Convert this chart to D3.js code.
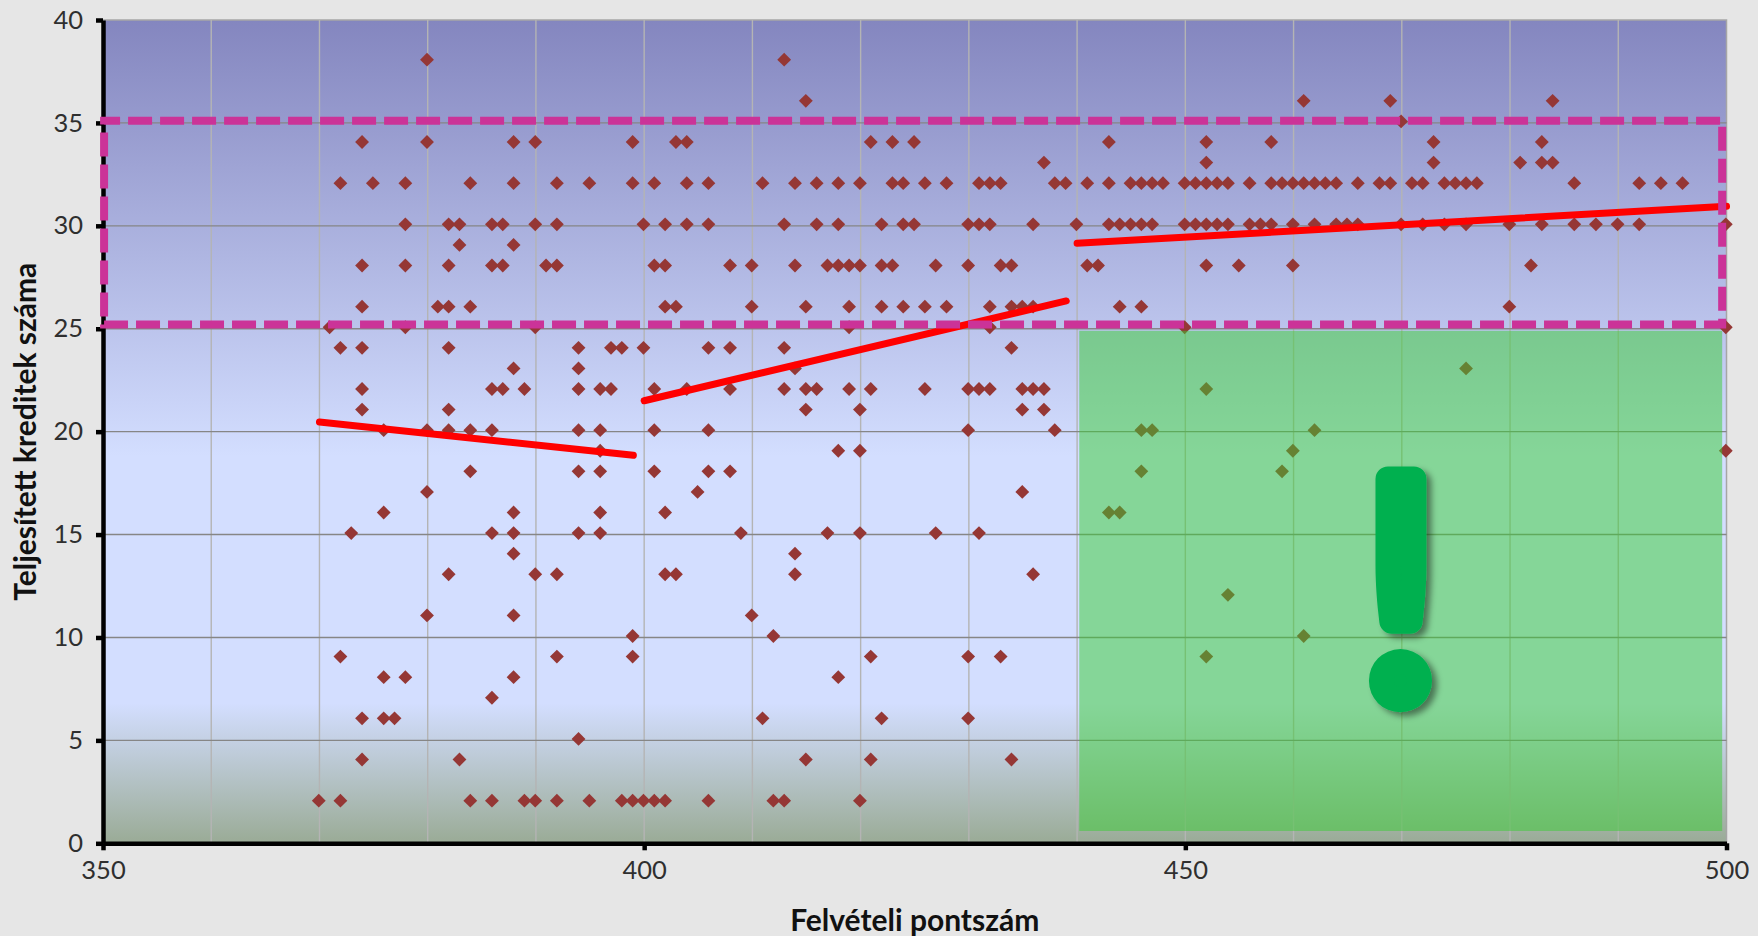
<!DOCTYPE html>
<html>
<head>
<meta charset="utf-8">
<title>Felvételi pontszám</title>
<script src="https://cdn.jsdelivr.net/npm/d3@7"></script>
<style>
    html, body { margin: 0; background: #e6e6e6; overflow: hidden; }
    text { font-family: Lato, "Noto Sans", sans-serif; }
</style>
</head>
<body>
<svg id="content" width="1758" height="936"></svg>
<script>
// tick labels
const xTicks = [350, 400, 450, 500];
const yTicks = [0, 5, 10, 15, 20, 25, 30, 35, 40];
const xGrid = [360, 370, 380, 390, 400, 410, 420, 430, 440, 450, 460, 470, 480, 490];

// admission scores of the students, one list per completed credit count
const credits38 = [380, 413];
const credits36 = [415, 461, 469, 484];
const credits35 = [470];
const credits34 = [374, 380, 388, 390, 399, 403, 404, 421, 423, 425, 443, 452, 458, 473, 483];
const credits33 = [437, 452, 473, 481, 483, 484];
const credits32 = [372, 375, 378, 384, 388, 392, 395, 399, 401, 404, 406, 411, 414, 416, 418, 420, 423, 424, 426, 428, 431, 432, 433, 438, 439, 441, 443, 445, 446, 447, 448, 450, 451, 452, 453, 454, 456, 458, 459, 460, 461, 462, 463, 464, 466, 468, 469, 471, 472, 474, 475, 476, 477, 486, 492, 494, 496];
const credits30 = [378, 382, 383, 386, 387, 390, 392, 400, 402, 404, 406, 413, 416, 418, 422, 424, 425, 430, 431, 432, 436, 440, 443, 444, 445, 446, 447, 450, 451, 452, 453, 454, 456, 457, 458, 460, 462, 464, 465, 466, 470, 472, 474, 476, 480, 483, 486, 488, 490, 492, 500];
const credits29 = [383, 388];
const credits28 = [374, 378, 382, 386, 387, 391, 392, 401, 402, 408, 410, 414, 417, 418, 419, 420, 422, 423, 427, 430, 433, 434, 441, 442, 452, 455, 460, 482];
const credits26 = [374, 381, 382, 384, 402, 403, 410, 415, 419, 422, 424, 426, 428, 432, 434, 435, 436, 444, 446, 480];
const credits25 = [371, 378, 390, 419, 432, 450, 500];
const credits24 = [372, 374, 382, 394, 397, 398, 400, 406, 408, 413, 434];
const credits23 = [388, 394, 414, 476];
const credits22 = [374, 386, 387, 389, 394, 396, 397, 401, 404, 408, 413, 415, 416, 419, 421, 426, 430, 431, 432, 435, 436, 437, 452];
const credits21 = [374, 382, 415, 420, 435, 437];
const credits20 = [376, 380, 382, 384, 386, 394, 396, 401, 406, 430, 438, 446, 447, 462];
const credits19 = [396, 418, 420, 460, 500];
const credits18 = [384, 394, 396, 401, 406, 408, 446, 459];
const credits17 = [380, 405, 435];
const credits16 = [376, 388, 396, 402, 443, 444];
const credits15 = [373, 386, 388, 394, 396, 409, 417, 420, 427, 431];
const credits14 = [388, 414];
const credits13 = [382, 390, 392, 402, 403, 414, 436];
const credits12 = [454];
const credits11 = [380, 388, 410];
const credits10 = [399, 412, 461];
const credits9 = [372, 392, 399, 421, 430, 433, 452];
const credits8 = [376, 378, 388, 418];
const credits7 = [386];
const credits6 = [374, 376, 377, 411, 422, 430];
const credits5 = [394];
const credits4 = [374, 383, 415, 421, 434];
const credits2 = [370, 372, 384, 386, 389, 390, 392, 395, 398, 399, 400, 401, 402, 406, 412, 413, 420];

// trend of each score band, [score, credits]
const trendLow = [[370, 20.47], [399, 18.85]];
const trendMid = [[400, 21.5], [439, 26.35]];
const trendHigh = [[440, 29.15], [500, 30.95]];

// highlighted zones, in axis units
const dashedZone = { x0: 350.1, x1: 499.6, y0: 25.2, y1: 35.1 };
const greenZone = { x0: 440.2, x1: 499.6, y0: 24.9, y1: 0.6 };

// html loaded
document.addEventListener('DOMContentLoaded', function () {

    const svg = d3.select('#content');

    const xScale = d3.scaleLinear().domain([350, 500]).range([103, 1726.5]);
    const yScale = d3.scaleLinear().domain([0, 40]).range([843.3, 20]);

    const points = [
        [38, credits38], [36, credits36], [35, credits35], [34, credits34], [33, credits33],
        [32, credits32], [30, credits30], [29, credits29], [28, credits28], [26, credits26],
        [25, credits25], [24, credits24], [23, credits23], [22, credits22], [21, credits21],
        [20, credits20], [19, credits19], [18, credits18], [17, credits17], [16, credits16],
        [15, credits15], [14, credits14], [13, credits13], [12, credits12], [11, credits11],
        [10, credits10], [9, credits9], [8, credits8], [7, credits7], [6, credits6],
        [5, credits5], [4, credits4], [2, credits2]
    ].flatMap(([credit, scores]) => scores.map(score => ({ score, credit })));

    // gradients
    const defs = svg.append('defs');
    const plotFill = defs.append('linearGradient')
        .attr('id', 'plotFill').attr('x1', 0).attr('y1', 0).attr('x2', 0).attr('y2', 1);
    plotFill.append('stop').attr('offset', '0%').attr('stop-color', '#8486bf');
    plotFill.append('stop').attr('offset', '53%').attr('stop-color', '#d3deff');
    plotFill.append('stop').attr('offset', '83%').attr('stop-color', '#d3deff');
    plotFill.append('stop').attr('offset', '100%').attr('stop-color', '#9aab96');

    const shadow = defs.append('filter').attr('id', 'shadow')
        .attr('x', '-30%').attr('y', '-10%').attr('width', '160%').attr('height', '120%');
    shadow.append('feDropShadow')
        .attr('dx', 5).attr('dy', 4).attr('stdDeviation', 3)
        .attr('flood-color', '#000').attr('flood-opacity', 0.45);

    // plot background
    svg.append('rect')
        .attr('x', xScale(350))
        .attr('y', yScale(40))
        .attr('width', xScale(500) - xScale(350))
        .attr('height', yScale(0) - yScale(40))
        .attr('fill', 'url(#plotFill)')
        .attr('stroke', '#a6a6a6')
        .attr('stroke-width', 1.5);

    // grid lines
    svg.append('g').selectAll('line').data(xGrid).enter().append('line')
        .attr('x1', d => xScale(d)).attr('x2', d => xScale(d))
        .attr('y1', yScale(40)).attr('y2', yScale(0))
        .attr('stroke', '#b4b4b4').attr('stroke-width', 1.4);

    svg.append('g').selectAll('line').data(yTicks.filter(d => d > 0 && d < 40)).enter().append('line')
        .attr('x1', xScale(350)).attr('x2', xScale(500))
        .attr('y1', d => yScale(d)).attr('y2', d => yScale(d))
        .attr('stroke', '#868686').attr('stroke-width', 1.4);

    // students
    const diamond = d3.symbol().type(d3.symbolDiamond2).size(122);
    svg.append('g').selectAll('path').data(points).enter().append('path')
        .attr('d', diamond)
        .attr('transform', d => `translate(${xScale(d.score) - 0.7}, ${yScale(d.credit) - 1.5})`)
        .attr('fill', '#953735');

    // green zone lies over the points
    svg.append('rect')
        .attr('x', xScale(greenZone.x0))
        .attr('y', yScale(greenZone.y0))
        .attr('width', xScale(greenZone.x1) - xScale(greenZone.x0))
        .attr('height', yScale(greenZone.y1) - yScale(greenZone.y0))
        .attr('fill', 'rgb(55, 205, 50)')
        .attr('fill-opacity', 0.5);

    // trend lines
    const line = d3.line().x(d => xScale(d[0])).y(d => yScale(d[1]));
    svg.append('g').selectAll('path').data([trendLow, trendMid, trendHigh]).enter().append('path')
        .attr('d', line)
        .attr('fill', 'none')
        .attr('stroke', '#ff0000')
        .attr('stroke-width', 7)
        .attr('stroke-linecap', 'round');

    // axes
    const xAxis = d3.axisBottom(xScale).tickValues(xTicks).tickSize(7).tickSizeOuter(0).tickPadding(11);
    const yAxis = d3.axisLeft(yScale).tickValues(yTicks).tickSize(7).tickSizeOuter(0).tickPadding(13);

    const gx = svg.append('g').attr('transform', `translate(0, ${yScale(0)})`).call(xAxis);
    const gy = svg.append('g').attr('transform', `translate(${xScale(350)}, 0)`).call(yAxis);

    [gx, gy].forEach(g => {
        g.select('.domain').attr('stroke', '#000').attr('stroke-width', 4.5);
        g.selectAll('.tick line').attr('stroke', '#000').attr('stroke-width', 4.5);
        g.selectAll('.tick text')
            .attr('fill', '#2f2f2f')
            .style('font-family', 'Lato, "Noto Sans", sans-serif')
            .style('font-size', '25.5px');
    });

    // dashed zone sits over the axis line
    svg.append('rect')
        .attr('x', xScale(dashedZone.x0))
        .attr('y', yScale(dashedZone.y1))
        .attr('width', xScale(dashedZone.x1) - xScale(dashedZone.x0))
        .attr('height', yScale(dashedZone.y0) - yScale(dashedZone.y1))
        .attr('fill', 'none')
        .attr('stroke', '#cb3398')
        .attr('stroke-width', 8)
        .attr('stroke-dasharray', '24 8')
        .attr('stroke-dashoffset', 8);

    // axis titles
    svg.append('text')
        .attr('x', xScale(425))
        .attr('y', 931)
        .attr('text-anchor', 'middle')
        .attr('fill', '#111')
        .style('font-size', '30px')
        .style('font-weight', 700)
        .text('Felvételi pontszám');

    svg.append('text')
        .attr('transform', `translate(36, ${yScale(20)}) rotate(-90)`)
        .attr('text-anchor', 'middle')
        .attr('fill', '#111')
        .style('font-size', '30px')
        .style('font-weight', 700)
        .text('Teljesített kreditek száma');

    // exclamation mark
    svg.append('text')
        .attr('x', xScale(470) - 1)
        .attr('y', 697.5)
        .attr('text-anchor', 'middle')
        .attr('fill', '#00b050')
        .attr('stroke', '#00b050')
        .attr('stroke-width', 25)
        .attr('stroke-linejoin', 'round')
        .attr('filter', 'url(#shadow)')
        .style('font-size', '305px')
        .style('font-weight', 400)
        .text('!');
});
</script>
</body>
</html>
